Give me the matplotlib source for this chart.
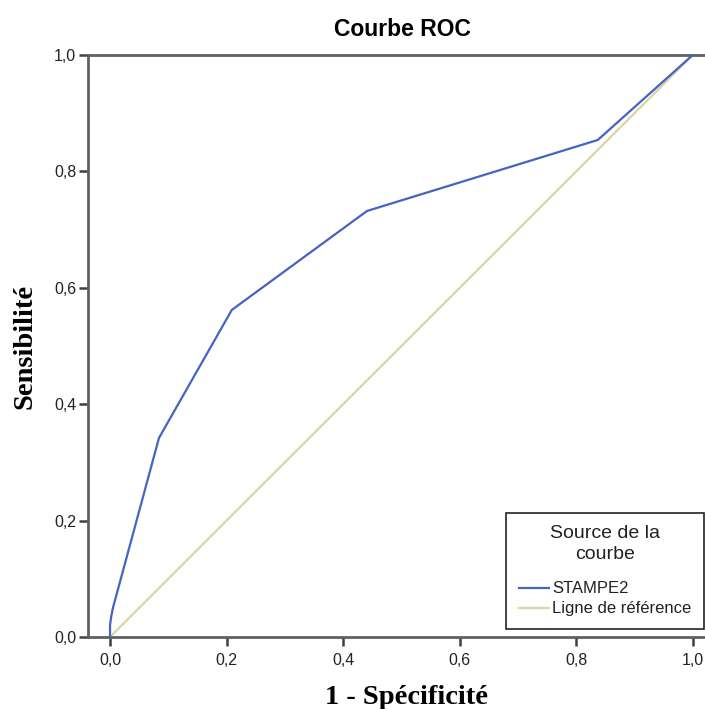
import matplotlib
matplotlib.use("Agg")
from matplotlib import pyplot as plt

# ROC curve data (1 - specificity, sensitivity)
fpr = [0.0, 0.0, 0.002, 0.005, 0.084, 0.209, 0.441, 0.837, 1.0]
tpr = [0.0, 0.02, 0.035, 0.05, 0.342, 0.562, 0.732, 0.854, 1.0]
ref_x = [0.0, 1.0]
ref_y = [0.0, 1.0]
ticks = [0.0, 0.2, 0.4, 0.6, 0.8, 1.0]
tick_labels = ["0,0", "0,2", "0,4", "0,6", "0,8", "1,0"]

W, H = 705, 709


def main():
    fig = plt.figure(figsize=(W / 100, H / 100), dpi=100)
    ax = fig.add_axes([88 / W, 1 - 637 / H, 1 - 88 / W, (637 - 55) / H])

    ax.plot(ref_x, ref_y, color="#d9d6a4", lw=1.6, label="Ligne de référence", zorder=2)
    ax.plot(fpr, tpr, color="#4662c4", lw=1.6, label="STAMPE2", zorder=3)

    ax.set_xlim(-0.0378, 1.021)
    ax.set_ylim(0, 1)
    ax.set_xticks(ticks)
    ax.set_xticklabels(tick_labels)
    ax.set_yticks(ticks)
    ax.set_yticklabels(tick_labels)

    for side in ["left", "top", "bottom"]:
        ax.spines[side].set_color("#606060")
        ax.spines[side].set_linewidth(2)
    ax.spines["right"].set_visible(False)
    ax.tick_params(length=6.5, width=1.8, color="#404040", labelsize=11.5,
                   labelcolor="#222222")
    ax.tick_params(axis="y", pad=2)
    ax.tick_params(axis="x", pad=5)
    for lab in ax.get_xticklabels() + ax.get_yticklabels():
        lab.set_family("Liberation Sans")

    fig.text(402 / W, 1 - 30 / H, "Courbe ROC", ha="center", va="center",
             fontsize=16.5, fontweight="bold", family="Liberation Sans")
    fig.text(406 / W, 1 - 697 / H, "1 - Spécificité", ha="center", va="center",
             fontsize=20.5, fontweight="bold", family="Liberation Serif")
    fig.text(25 / W, 1 - 346 / H, "Sensibilité", ha="center", va="center",
             rotation=90, fontsize=20.5, fontweight="bold", family="Liberation Serif")

    handles, labels = ax.get_legend_handles_labels()
    leg = ax.legend(handles[::-1], labels[::-1], title="Source de la\ncourbe",
                    loc="upper left", bbox_to_anchor=(506 / W, 1 - 513 / H),
                    bbox_transform=fig.transFigure, fancybox=False,
                    framealpha=1, edgecolor="#222222", fontsize=12,
                    title_fontsize=14, handlelength=1.8, handletextpad=0.2,
                    borderpad=0.75, labelspacing=0.3, borderaxespad=0)
    leg._legend_box.sep = 13  # extra gap between title and entries
    leg.get_frame().set_linewidth(1.2)
    leg.get_title().set_multialignment("center")
    leg.get_title().set_linespacing(1.3)
    leg.get_title().set_family("Liberation Sans")
    leg.get_title().set_color("#222222")
    for t in leg.get_texts():
        t.set_family("Liberation Sans")
        t.set_color("#222222")

    fig.savefig("out.png", dpi=100)


if __name__ == "__main__":
    main()
